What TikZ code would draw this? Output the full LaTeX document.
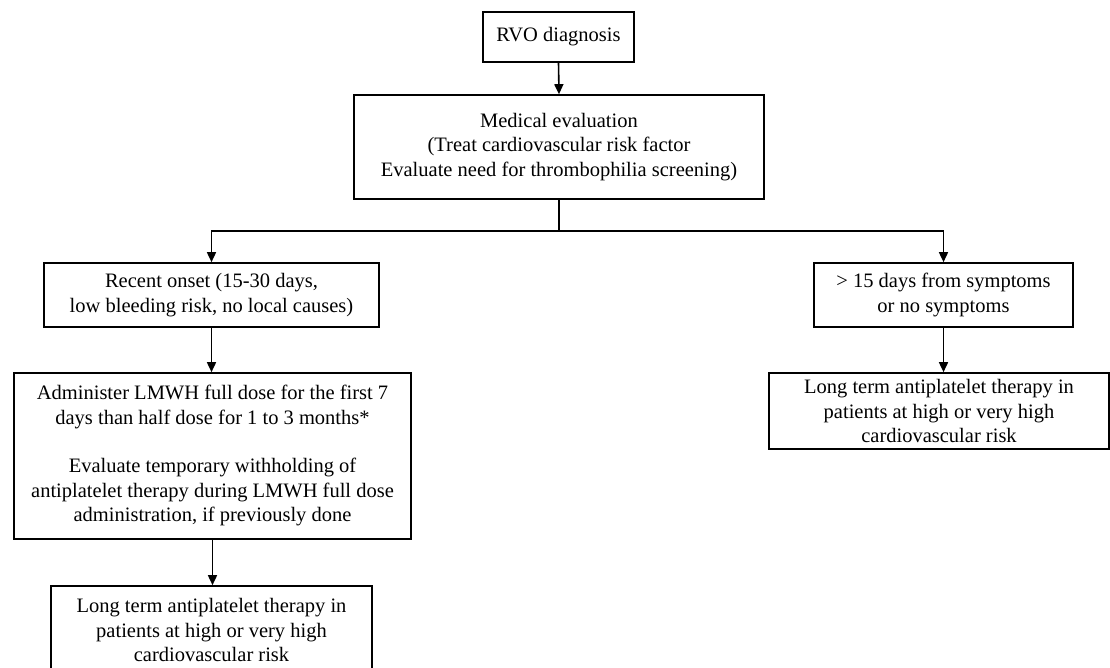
\documentclass[tikz,border=0pt]{standalone}
\usepackage{fontspec}
\setmainfont{Liberation Serif}
\usetikzlibrary{arrows.meta}
\begin{document}
\begin{tikzpicture}[x=1pt,y=1pt,
  box/.style={draw=black, line width=1.6pt, align=center, inner sep=0pt,
    font=\fontsize{20.5}{24.5}\selectfont},
  arr/.style={line width=1.6pt, -{Triangle[length=10pt,width=9pt]}},
  ln/.style={line width=1.6pt}]
\useasboundingbox (0,0) rectangle (1110,668);
\node[box, minimum width=151pt, minimum height=50pt] (rvo) at (558.5,631) {RVO diagnosis};
\node[box, minimum width=410pt, minimum height=104pt] (med) at (559,521)
  {Medical evaluation\\(Treat cardiovascular risk factor\\Evaluate need for thrombophilia screening)};
\node[box, minimum width=335pt, minimum height=64pt] (recent) at (211.5,373)
  {Recent onset (15-30 days,\\low bleeding risk, no local causes)};
\node[box, minimum width=259pt, minimum height=64pt] (late) at (943.5,373)
  {> 15 days from symptoms\\or no symptoms};
\node[box, minimum width=397pt, minimum height=166pt] (lmwh) at (212.5,212)
  {Administer LMWH full dose for the first 7\\days than half dose for 1 to 3 months*\\[24pt]Evaluate temporary withholding of\\antiplatelet therapy during LMWH full dose\\administration, if previously done};
\node[box, minimum width=321pt, minimum height=88pt] (ltl) at (211.5,38)
  {Long term antiplatelet therapy in\\patients at high or very high\\cardiovascular risk};
\node[box, minimum width=340pt, minimum height=76pt] (ltr) at (939,257)
  {Long term antiplatelet therapy in\\patients at high or very high\\cardiovascular risk};
\coordinate (j) at (559,437);
\draw[arr] (rvo.south) -- (med.north);
\draw[ln] (med.south) -- (j);
\draw[arr] (j) -| (recent.north);
\draw[arr] (j) -| (late.north);
\draw[arr] (recent.south) -- (recent.south |- lmwh.north);
\draw[arr] (lmwh.south) -- (lmwh.south |- ltl.north);
\draw[arr] (late.south) -- (late.south |- ltr.north);
\end{tikzpicture}
\end{document}
